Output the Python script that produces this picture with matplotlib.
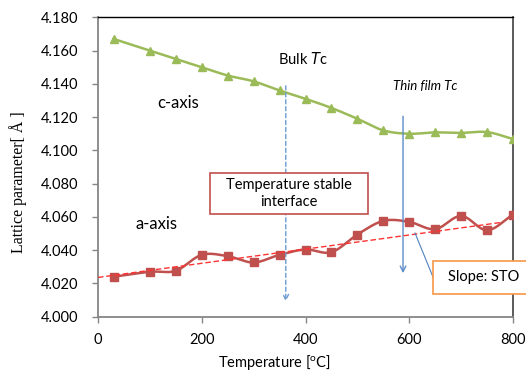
import numpy as np
import matplotlib
matplotlib.use("Agg")
import matplotlib.pyplot as plt
from matplotlib.patches import Rectangle

temps = [30, 100, 150, 200, 250, 300, 350, 400, 450, 500, 550, 600, 650, 700, 750, 800]
c_axis = [4.167, 4.160, 4.155, 4.150, 4.145, 4.1415, 4.136, 4.131, 4.1255, 4.119, 4.112,
          4.110, 4.1108, 4.1105, 4.111, 4.1068]
a_axis = [4.024, 4.027, 4.0276, 4.0372, 4.0364, 4.0326, 4.0372, 4.0404, 4.0388, 4.0494,
          4.0576, 4.057, 4.0526, 4.0606, 4.052, 4.0614]
trend_x = [0, 780]
trend_y = [4.0236, 4.0568]
xticks = [0, 200, 400, 600, 800]
yticks = [4.000, 4.020, 4.040, 4.060, 4.080, 4.100, 4.120, 4.140, 4.160, 4.180]
bulk_tc = 362
film_tc = 588

GREEN = "#9BBB59"
RED = "#C0504D"
BLUE = "#4F81BD"
FONT = "Lato"
H = 374


def smooth(x, y, n=20):
    x = np.asarray(x, float); y = np.asarray(y, float)
    px = np.concatenate([[2 * x[0] - x[1]], x, [2 * x[-1] - x[-2]]])
    py = np.concatenate([[2 * y[0] - y[1]], y, [2 * y[-1] - y[-2]]])
    xs, ys = [], []
    for i in range(1, len(px) - 2):
        t = np.linspace(0, 1, n, endpoint=False)
        for arr, out in ((px, xs), (py, ys)):
            p0, p1, p2, p3 = arr[i - 1], arr[i], arr[i + 1], arr[i + 2]
            out.extend(0.5 * ((2 * p1) + (-p0 + p2) * t + (2 * p0 - 5 * p1 + 4 * p2 - p3) * t ** 2
                              + (-p0 + 3 * p1 - 3 * p2 + p3) * t ** 3))
    xs.append(x[-1]); ys.append(y[-1])
    return np.array(xs), np.array(ys)


def fr(x, y):
    return x / 526, 1 - y / H


fig = plt.figure(figsize=(5.26, 3.74), dpi=100)
ax = fig.add_axes([98 / 526, 1 - 316.7 / H, (513 - 98) / 526, (316.7 - 17.3) / H])

sx, sy = smooth(temps, c_axis)
ax.plot(sx, sy, color=GREEN, lw=1.8, zorder=3)
ax.plot(temps, c_axis, ls="none", marker="^", ms=6, color=GREEN, zorder=4)

sx, sy = smooth(temps, a_axis)
ax.plot(sx, sy, color=RED, lw=1.8, zorder=3)
ax.plot(temps, a_axis, ls="none", marker="s", ms=5.5, color=RED, zorder=4)

ax.plot(trend_x, trend_y, color="#FF3333", ls=(0, (4, 2)), lw=1.0, zorder=5)

ax.set_xlim(0, 800)
ax.set_ylim(4.0, 4.18)
ax.set_xticks(xticks)
ax.set_yticks(yticks)
ax.set_xticklabels([str(v) for v in xticks], fontfamily=FONT, fontsize=10.5)
ax.set_yticklabels([f"{v:.3f}" for v in yticks], fontfamily=FONT, fontsize=10.5)
ax.tick_params(direction="out", length=4, width=1, color="#868686")
ax.tick_params(axis="y", pad=10)
ax.tick_params(axis="x", pad=8)
for s in ("left", "bottom"):
    ax.spines[s].set_color("#868686")
    ax.spines[s].set_linewidth(1.3)
ax.spines["top"].set_color("#000000")
ax.spines["top"].set_linewidth(1.0)
ax.spines["right"].set_color("#404040")
ax.spines["right"].set_linewidth(1.2)

fig.text(*fr(274, 363), "Temperature [$\\mathregular{^o}$C]", fontfamily=FONT, fontsize=10.5,
         ha="center", va="center")
fig.text(*fr(18, 182), "Lattice parameter[ Å ]", fontfamily="Liberation Serif", fontsize=11.5,
         ha="center", va="center", rotation=90)

# Tc arrows
ax.annotate("", xy=(bulk_tc, 4.0075), xytext=(bulk_tc, 4.1405),
            arrowprops=dict(arrowstyle="->", color="#6A9BD1", lw=1.0, ls=(0, (3, 2))))
ax.annotate("", xy=(film_tc, 4.0245), xytext=(film_tc, 4.1222),
            arrowprops=dict(arrowstyle="->", color="#5B8CC8", lw=1.0))

fig.text(*fr(278, 59), "Bulk $\\mathit{T}$c", fontfamily=FONT, fontsize=10.5,
         va="center", ha="left")
fig.text(*fr(393, 86), "Thin film Tc", fontfamily=FONT, fontsize=9.5,
         style="italic", va="center", ha="left")
fig.text(*fr(157, 103), "c-axis", fontfamily=FONT, fontsize=12,
         va="center", ha="left")
fig.text(*fr(135, 224), "a-axis", fontfamily=FONT, fontsize=12,
         va="center", ha="left")

# boxes
x0, y0 = fr(210, 214)
x1, y1 = fr(368, 173)
fig.patches.append(Rectangle((x0, y0), x1 - x0, y1 - y0, transform=fig.transFigure,
                             facecolor="white", edgecolor=RED, lw=1.2, zorder=6))
fig.text((x0 + x1) / 2, (y0 + y1) / 2, "Temperature stable\ninterface", ha="center",
         va="center", fontfamily=FONT, fontsize=10.5, linespacing=1.2, zorder=7)

x0, y0 = fr(433, 294)
x1, y1 = fr(530, 261)
fig.patches.append(Rectangle((x0, y0), x1 - x0, y1 - y0, transform=fig.transFigure,
                             facecolor="white", edgecolor="#F79646", lw=1.2, zorder=6))
fig.text(448 / 526, (y0 + y1) / 2, "Slope: STO", ha="left", va="center",
         fontfamily=FONT, fontsize=10.5, zorder=7)
fig.lines.append(plt.Line2D([433 / 526, 415 / 526], [1 - 277 / H, 1 - 233 / H],
                            transform=fig.transFigure, color=BLUE, lw=0.8))

fig.savefig("out.png", dpi=100)
